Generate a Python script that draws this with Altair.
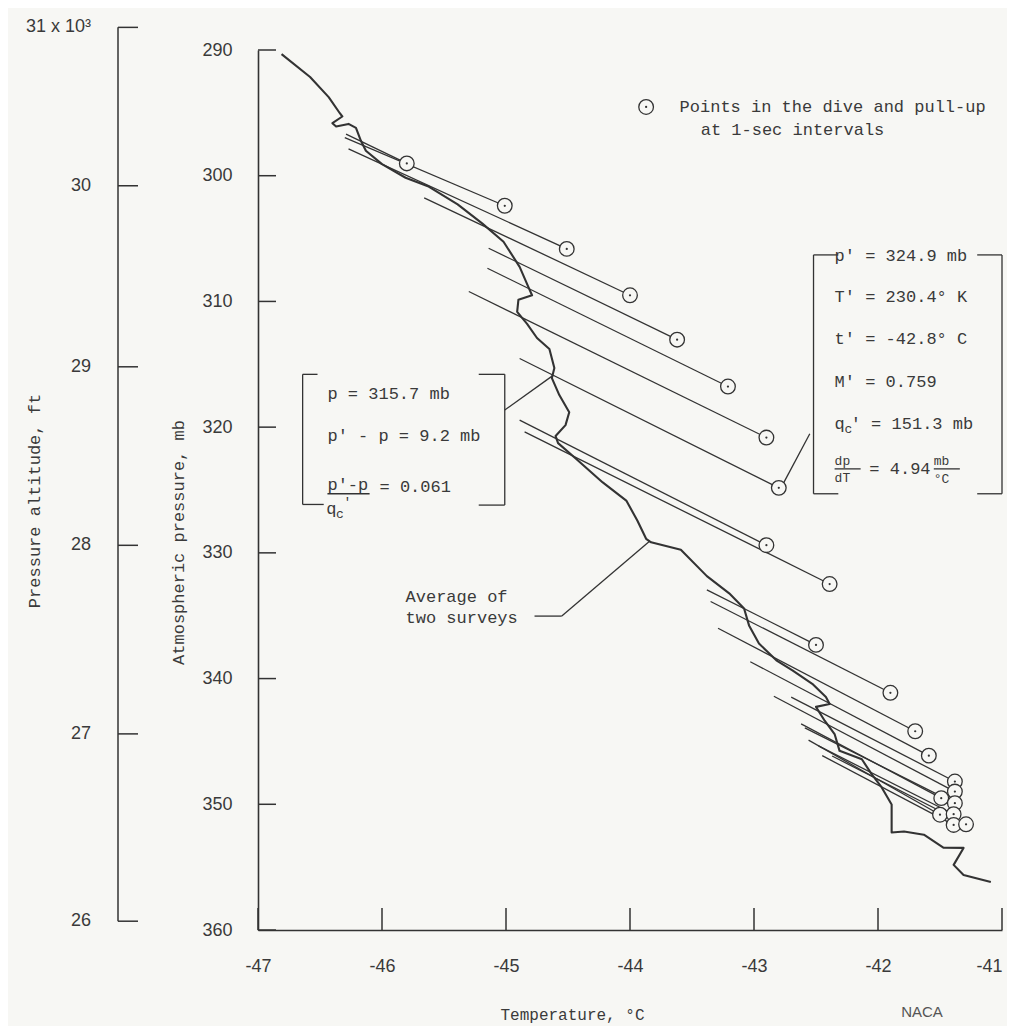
import altair as alt
import pandas as pd

BG = "#f7f7f4"
INK = "#333333"
TXT = "#3a3a3a"
MONO = "Liberation Mono"
SANS = "Liberation Sans"

# ---------------- data (temperature in deg C, pressure in mb) ----------------
# Average of two surveys
avg_temp = [-46.81, -46.58, -46.43, -46.34, -46.32, -46.40, -46.37, -46.27, -46.21, -46.17,
            -46.13, -46.00, -45.81, -45.63, -45.39, -45.19, -45.02, -44.89, -44.82, -44.79,
            -44.90, -44.91, -44.83, -44.75, -44.65, -44.61, -44.63, -44.57, -44.49, -44.52,
            -44.60, -44.58, -44.44, -44.22, -44.03, -43.94, -43.87, -43.83, -43.59, -43.38,
            -43.20, -43.08, -43.04, -42.96, -42.82, -42.69, -42.53, -42.42, -42.39, -42.50,
            -42.43, -42.35, -42.31, -42.13, -42.05, -41.97, -41.89, -41.89, -41.79, -41.63,
            -41.47, -41.31, -41.39, -41.31, -41.09]
avg_pres = [290.33, 292.15, 293.75, 295.03, 295.29, 295.82, 296.09, 295.88, 296.20, 297.22,
            298.01, 299.08, 300.16, 300.83, 302.28, 303.81, 305.25, 307.25, 308.84, 309.51,
            309.87, 310.83, 311.78, 312.91, 313.79, 315.30, 316.10, 317.45, 318.81, 319.84,
            320.71, 321.27, 322.47, 324.40, 325.84, 327.44, 328.88, 329.16, 329.75, 331.85,
            333.22, 334.42, 335.77, 337.21, 338.55, 339.35, 340.42, 341.47, 342.03, 342.25,
            343.35, 344.41, 345.75, 346.42, 347.62, 348.66, 350.01, 352.24, 352.17, 352.42,
            353.46, 353.47, 354.82, 355.62, 356.19]

# Points in the dive and pull-up (circles) and the start of each line drawn to them
point_temp = [-45.80, -45.01, -44.51, -44.00, -43.62, -43.21, -42.90, -42.80, -42.90, -42.39,
              -42.50, -41.90, -41.70, -41.59, -41.38, -41.38, -41.49, -41.38, -41.50, -41.39,
              -41.39, -41.29]
point_pres = [299.02, 302.39, 305.82, 309.51, 313.04, 316.77, 320.83, 324.83, 329.39, 332.48,
              337.32, 341.13, 344.19, 346.13, 348.19, 348.99, 349.51, 349.91, 350.83, 350.79,
              351.64, 351.59]
line_start_temp = [-46.29, -46.30, -46.27, -45.66, -45.14, -45.15, -45.30, -44.89, -44.89, -44.85,
                   -43.38, -43.35, -43.29, -43.03, -42.70, -42.84, -42.62, -42.59, -42.56, -42.48,
                   -42.45, -42.37]
line_start_pres = [296.69, 296.97, 297.87, 301.76, 305.77, 307.36, 309.21, 314.54, 319.44, 320.38,
                   332.94, 333.87, 336.00, 338.66, 341.47, 341.41, 343.60, 343.92, 344.90, 345.36,
                   346.13, 346.16]

# axes
x_ticks = [-47, -46, -45, -44, -43, -42, -41]
y_ticks = [290, 300, 310, 320, 330, 340, 350, 360]
alt_labels = ["31 x 10\u00b3", "30", "29", "28", "27", "26"]
alt_tick_pres = [288.2, 300.8, 315.2, 329.4, 344.4, 359.3]

# annotation bracket / leader segments (data units)
seg_T0 = [-42.52, -42.52, -42.52, -41.00, -41.20, -41.20, -42.76,
          -46.64, -46.64, -46.64, -45.01, -45.22, -45.22, -45.01,
          -44.77, -44.55, -46.44, -42.35, -41.55]
seg_p0 = [306.3, 306.3, 325.3, 306.3, 306.3, 325.3, 324.41,
          315.8, 315.8, 326.15, 315.8, 315.8, 326.2, 318.64,
          335.03, 335.03, 325.3, 323.32, 323.32]
seg_T1 = [-42.52, -42.32, -42.32, -41.00, -41.00, -41.00, -42.55,
          -46.64, -46.52, -46.47, -45.01, -45.01, -45.01, -44.62,
          -44.55, -43.84, -46.10, -42.14, -41.34]
seg_p1 = [325.3, 306.3, 325.3, 325.3, 306.3, 325.3, 320.53,
          326.15, 315.8, 326.15, 326.2, 315.8, 326.2, 315.88,
          335.03, 329.06, 325.3, 323.32, 323.32]

# annotation texts
note_T = [-42.35, -42.35, -42.35, -42.35, -42.35, -42.22, -42.07,
          -46.44, -46.44, -46.44, -46.02, -46.45,
          -45.81, -45.81, -43.60, -43.43]
note_p = [306.38, 309.64, 312.98, 316.40, 319.74, 319.74, 323.32,
          317.35, 320.67, 324.60, 324.78, 326.50,
          333.52, 335.19, 294.53, 296.35]
note_text = ["p' = 324.9 mb", "T' = 230.4\u00b0 K", "t' = -42.8\u00b0 C", "M' = 0.759", "q",
             "' = 151.3 mb", "= 4.94",
             "p = 315.7 mb", "p' - p = 9.2 mb", "p'-p", "= 0.061", "q",
             "Average of", "two surveys",
             "Points in the dive and pull-up", "at 1-sec intervals"]

small_T = [-42.27, -46.37, -42.35, -42.35, -41.55, -41.55, -46.31]
small_p = [320.14, 326.90, 322.66, 324.04, 322.68, 324.10, 325.95]
small_text = ["c", "c", "dp", "dT", "mb", "\u00b0C", "'"]

legend_T = [-43.87]
legend_p = [294.53]

# ---------------- chart ----------------
W, H = 744, 880
xs = alt.Scale(domain=[-47, -41], nice=False, zero=False)
ys = alt.Scale(domain=[290, 360], reverse=True, nice=False, zero=False)

AX_X = alt.Axis(
    values=x_ticks, ticks=False, tickSize=0, grid=False, labelPadding=27,
    labelFont=SANS, labelFontSize=18, labelColor=TXT, labelFlush=False,
    labelOverlap=False, labelExpr="'' + datum.value",
    labelAlign=alt.condition("datum.value == -41", alt.value("right"), alt.value("center")),
    domainColor=INK, domainWidth=1.6,
    title="Temperature, \u00b0C", titleFont=MONO, titleFontSize=16,
    titleFontWeight="normal", titleColor=TXT, titleX=314, titleY=84,
    titleAlign="center", titleBaseline="middle")
AX_Y = alt.Axis(
    values=y_ticks, ticks=False, tickSize=0, grid=False, labelPadding=26,
    labelFont=SANS, labelFontSize=18, labelColor=TXT, labelFlush=False,
    labelOverlap=False, domainColor=INK, domainWidth=1.6,
    title="Atmospheric pressure, mb", titleFont=MONO, titleFontSize=17,
    titleFontWeight="normal", titleColor=TXT, titleX=-80, titleY=492,
    titleAngle=270, titleAlign="center", titleBaseline="middle")


def X(f="T"):
    return alt.X(f"{f}:Q", scale=xs, axis=AX_X)


def Y(f="p"):
    return alt.Y(f"{f}:Q", scale=ys, axis=AX_Y)


avg = pd.DataFrame({"T": avg_temp, "p": avg_pres, "i": list(range(len(avg_temp)))})
curve = alt.Chart(avg).mark_line(color=INK, strokeWidth=2.1, strokeJoin="round").encode(
    x=X(), y=Y(), order="i:Q")

lines_df = pd.DataFrame({"T0": line_start_temp, "p0": line_start_pres,
                         "T1": point_temp, "p1": point_pres})
lines = alt.Chart(lines_df).mark_rule(color=INK, strokeWidth=1.3).encode(
    x=X("T0"), y=Y("p0"), x2="T1:Q", y2="p1:Q")

pts_df = pd.DataFrame({"T": point_temp, "p": point_pres})
circles = alt.Chart(pts_df).mark_point(shape="circle", size=215, filled=True, fill=BG,
                                       fillOpacity=1, stroke=INK, strokeWidth=1.3,
                                       opacity=1).encode(x=X(), y=Y())
dots = alt.Chart(pts_df).mark_point(shape="circle", size=5, filled=True, color=INK,
                                    opacity=1).encode(x=X(), y=Y())

# inside ticks of main axes
ytick = alt.Chart(pd.DataFrame({"p": y_ticks})).mark_rule(color=INK, strokeWidth=1.5).encode(
    y=Y(), x=alt.value(0), x2=alt.value(18))
xtick = alt.Chart(pd.DataFrame({"T": x_ticks})).mark_rule(color=INK, strokeWidth=1.5).encode(
    x=X(), y=alt.value(H), y2=alt.value(H - 22))

# pressure-altitude scale on the far left
sec_df = pd.DataFrame({"p": alt_tick_pres, "lab": alt_labels})
sec_line = alt.Chart(pd.DataFrame({"p0": [alt_tick_pres[0]], "p1": [alt_tick_pres[-1]]})).mark_rule(
    color=INK, strokeWidth=1.5).encode(y=Y("p0"), y2="p1:Q", x=alt.value(-140))
sec_ticks = alt.Chart(sec_df).mark_rule(color=INK, strokeWidth=1.5).encode(
    y=Y(), x=alt.value(-140), x2=alt.value(-120))
sec_labels = alt.Chart(sec_df).mark_text(align="right", baseline="middle", font=SANS,
                                         fontSize=18, color=TXT).encode(
    y=Y(), x=alt.value(-167), text="lab:N")
sec_title = alt.Chart(pd.DataFrame({"t": ["Pressure altitude, ft"]})).mark_text(
    angle=270, align="center", baseline="middle", font=MONO, fontSize=17, color=TXT).encode(
    text="t:N", x=alt.value(-223), y=alt.value(451))

# annotations
segs = alt.Chart(pd.DataFrame({"T0": seg_T0, "p0": seg_p0, "T1": seg_T1, "p1": seg_p1})).mark_rule(
    color=INK, strokeWidth=1.3).encode(x=X("T0"), y=Y("p0"), x2="T1:Q", y2="p1:Q")
notes = alt.Chart(pd.DataFrame({"T": note_T, "p": note_p, "t": note_text})).mark_text(
    align="left", baseline="middle", font=MONO, fontSize=17, color=TXT).encode(
    x=X(), y=Y(), text="t:N")
small = alt.Chart(pd.DataFrame({"T": small_T, "p": small_p, "t": small_text})).mark_text(
    align="left", baseline="middle", font=MONO, fontSize=13, color=TXT).encode(
    x=X(), y=Y(), text="t:N")
leg_df = pd.DataFrame({"T": legend_T, "p": legend_p})
leg_c = alt.Chart(leg_df).mark_point(shape="circle", size=215, filled=False, stroke=INK,
                                     strokeWidth=1.3, opacity=1).encode(x=X(), y=Y())
leg_d = alt.Chart(leg_df).mark_point(shape="circle", size=5, filled=True, color=INK,
                                     opacity=1).encode(x=X(), y=Y())
naca = alt.Chart(pd.DataFrame({"t": ["NACA"]})).mark_text(
    font=SANS, fontSize=15, color="#555555", align="center", baseline="middle").encode(
    text="t:N", x=alt.value(664), y=alt.value(962))

chart = alt.layer(
    curve, lines, circles, dots, ytick, xtick, sec_line, sec_ticks, sec_labels, sec_title,
    segs, notes, small, leg_c, leg_d, naca
).properties(
    width=W, height=H,
    autosize=alt.AutoSizeParams(type="none"),
    padding={"left": 250, "top": 42, "right": 5, "bottom": 96},
    background=BG,
).configure_view(stroke=None)

chart.save("out.html", embed_options={"renderer": "svg", "actions": False})
